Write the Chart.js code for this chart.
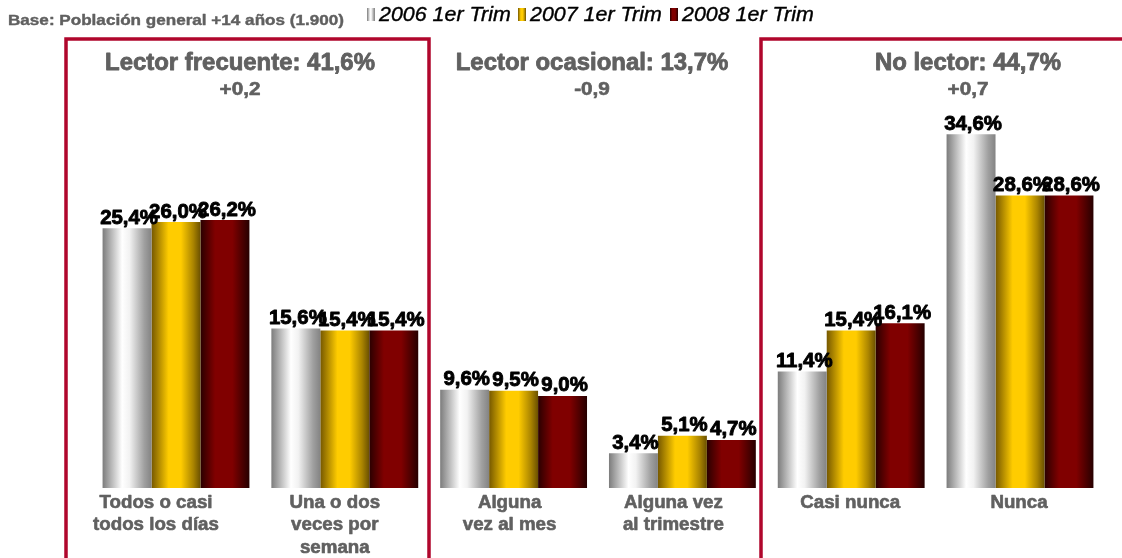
<!DOCTYPE html>
<html>
<head>
<meta charset="utf-8">
<script src="https://cdn.jsdelivr.net/npm/chart.js@4"></script>
<style>
  html, body { margin: 0; padding: 0; background: #fff; }
  #wrap { width: 1122px; height: 558px; }
</style>
</head>
<body>
<div id="wrap"><canvas id="lectura"></canvas></div>
<script>
const categorias = [
    ['Todos o casi', 'todos los días'],
    ['Una o dos', 'veces por', 'semana'],
    ['Alguna', 'vez al mes'],
    ['Alguna vez', 'al trimestre'],
    ['Casi nunca'],
    ['Nunca']
];
const series = ['2006 1er Trim', '2007 1er Trim', '2008 1er Trim'];
const valores2006 = [25.4, 15.6, 9.6, 3.4, 11.4, 34.6];
const valores2007 = [26.0, 15.4, 9.5, 5.1, 15.4, 28.6];
const valores2008 = [26.2, 15.4, 9.0, 4.7, 16.1, 28.6];
const grupos = [
    { titulo: 'Lector frecuente: 41,6%', dif: '+0,2' },
    { titulo: 'Lector ocasional: 13,7%', dif: '-0,9' },
    { titulo: 'No lector: 44,7%', dif: '+0,7' }
];

const FUENTE = '"Liberation Sans", Arial, sans-serif';
const GRIS = '#606060';
const GRANATE = '#b0062c';

// paradas de degradado para cada serie (efecto cilindro)
const degradados = [
    [[0, '#7c7c7c'], [0.4, '#ffffff'], [0.55, '#f2f2f2'], [0.85, '#a0a0a0'], [1, '#838383']],
    [[0, '#765800'], [0.35, '#ffcc00'], [0.6, '#ffcc00'], [0.85, '#ab8500'], [1, '#6a5000']],
    [[0, '#2a0000'], [0.3, '#800000'], [0.65, '#800000'], [1, '#260000']]
];

function crearDegradado(ctx, x0, x1, idx) {
    const g = ctx.createLinearGradient(x0, 0, x1, 0);
    degradados[idx].forEach(([p, c]) => g.addColorStop(p, c));
    return g;
}

// texto con estiramiento horizontal y trazo para engrosar
function texto(ctx, txt, x, y, escalaX, grosor) {
    ctx.save();
    ctx.translate(x, y);
    ctx.scale(escalaX, 1);
    if (grosor) {
        ctx.lineWidth = grosor;
        ctx.strokeStyle = ctx.fillStyle;
        ctx.lineJoin = 'round';
        ctx.strokeText(txt, 0, 0);
    }
    ctx.fillText(txt, 0, 0);
    ctx.restore();
}

const pluginDecoracion = {
    id: 'decoracion',
    beforeDatasetsDraw(chart) {
        const ctx = chart.ctx;
        chart.data.datasets.forEach((ds, i) => {
            chart.getDatasetMeta(i).data.forEach(bar => {
                const x0 = bar.x - bar.width / 2;
                // las opciones pueden estar compartidas entre barras: copiar
                bar.options = Object.assign({}, bar.options, {
                    backgroundColor: crearDegradado(ctx, x0, x0 + bar.width, i)
                });
            });
        });
    },
    afterDatasetsDraw(chart) {
        const ctx = chart.ctx;
        const xs = chart.scales.x;
        ctx.save();

        // etiquetas de valor
        ctx.font = 'bold 20px ' + FUENTE;
        ctx.fillStyle = '#000';
        ctx.textAlign = 'center';
        ctx.textBaseline = 'bottom';
        chart.data.datasets.forEach((ds, i) => {
            chart.getDatasetMeta(i).data.forEach((bar, j) => {
                const txt = ds.data[j].toFixed(1).replace('.', ',') + '%';
                texto(ctx, txt, bar.x + 2, bar.y, 1.02, 0.9);
            });
        });

        // categorias (bajo el eje)
        const desplazamiento = [-20, -10, -4, -9, -1, -1];
        ctx.fillStyle = GRIS;
        ctx.textBaseline = 'middle';
        ctx.font = 'bold 18px ' + FUENTE;
        categorias.forEach((lineas, i) => {
            const cx = xs.getPixelForValue(i) + desplazamiento[i];
            lineas.forEach((l, k) => texto(ctx, l, cx, 503 + k * 22.5, 1.04, 0.6));
        });

        // recuadros granates
        ctx.strokeStyle = GRANATE;
        ctx.lineWidth = 3.5;
        ctx.beginPath();
        ctx.moveTo(66, 562);
        ctx.lineTo(66, 39);
        ctx.lineTo(429, 39);
        ctx.lineTo(429, 562);
        ctx.moveTo(1130, 39);
        ctx.lineTo(761, 39);
        ctx.lineTo(761, 562);
        ctx.stroke();

        // titulos de grupo
        const posiciones = [240, 592, 968];
        ctx.fillStyle = GRIS;
        grupos.forEach((g, i) => {
            ctx.font = 'bold 23px ' + FUENTE;
            texto(ctx, g.titulo, posiciones[i], 64, 1.04, 0.8);
            ctx.font = 'bold 18px ' + FUENTE;
            texto(ctx, g.dif, posiciones[i], 90, 1.15, 0.6);
        });

        // base
        ctx.textAlign = 'left';
        ctx.font = 'bold 15px ' + FUENTE;
        texto(ctx, 'Base: Población general +14 años (1.900)', 8, 21, 1.14, 0.4);

        // leyenda
        const leyendaX = [367, 518, 670];
        ctx.font = 'italic 21px ' + FUENTE;
        series.forEach((s, i) => {
            const x = leyendaX[i];
            ctx.fillStyle = crearDegradado(ctx, x, x + 8, i);
            ctx.fillRect(x, 8, 8, 13);
            ctx.fillStyle = '#000';
            texto(ctx, s, x + 12, 15, 1.02, 0.4);
        });

        ctx.restore();
    }
};

new Chart(document.getElementById('lectura').getContext('2d'), {
    type: 'bar',
    data: {
        labels: categorias,
        datasets: [
            { label: series[0], data: valores2006 },
            { label: series[1], data: valores2007 },
            { label: series[2], data: valores2008 }
        ]
    },
    options: {
        responsive: true,
        maintainAspectRatio: false,
        animation: false,
        layout: {
            padding: { left: 91.6, right: 17.6, top: 38, bottom: 0 }
        },
        datasets: {
            bar: {
                categoryPercentage: 0.87,
                barPercentage: 1,
                borderWidth: 0
            }
        },
        scales: {
            x: {
                grid: { display: false, drawTicks: false },
                border: { display: false },
                ticks: { display: false },
                afterFit: (scale) => { scale.height = 70; }
            },
            y: {
                display: false,
                min: 0,
                max: 44
            }
        },
        plugins: {
            legend: { display: false },
            tooltip: { enabled: false }
        }
    },
    plugins: [pluginDecoracion]
});
</script>
</body>
</html>
